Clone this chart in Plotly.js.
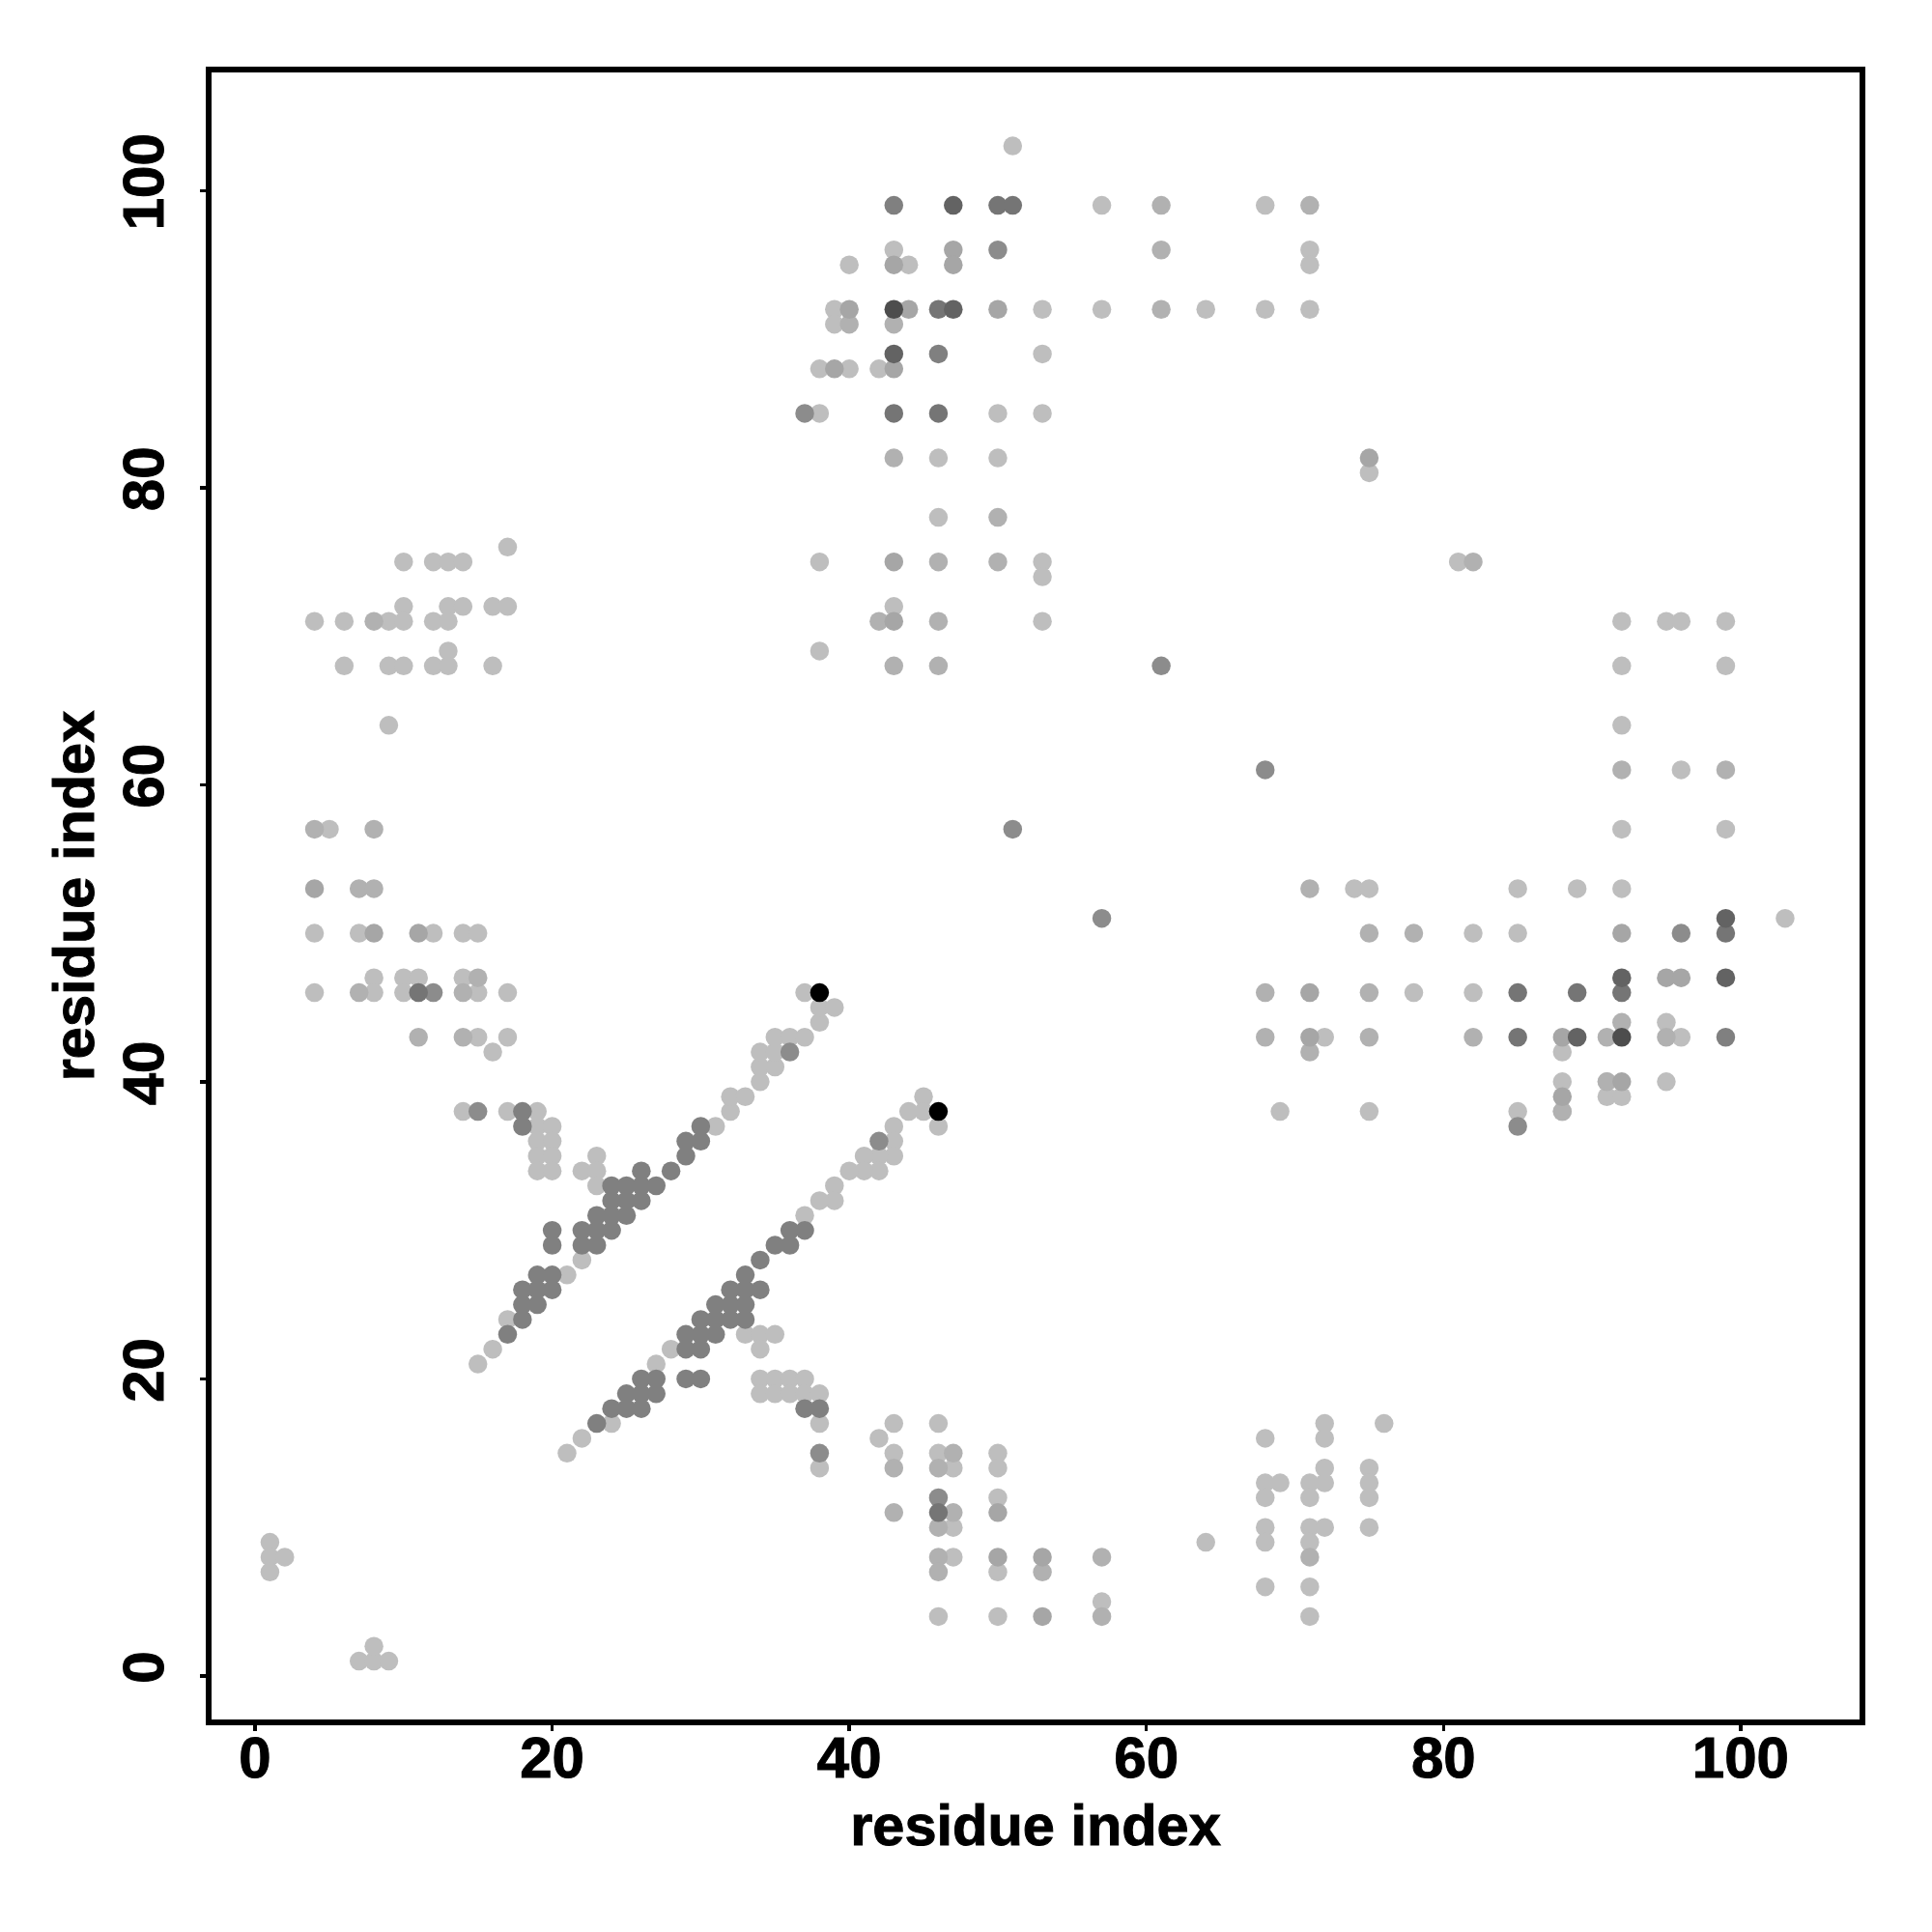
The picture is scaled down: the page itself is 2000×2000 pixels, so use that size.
<!DOCTYPE html>
<html><head><meta charset="utf-8">
<script src="https://cdn.plot.ly/plotly-3.0.1.min.js"></script>
<style>html,body{margin:0;padding:0;background:#fff}
.xtick text,.ytick text,.xtitle,.ytitle{stroke:#000;stroke-width:1px}</style></head>
<body><div id="chart" style="width:2000px;height:2000px"></div>
<script>
const gray1 = [[51,103],[57,99],[68,99],[43,96],[71,96],[40,95],[44,95],[71,95],[39,92],[53,92],[57,92],[64,92],[68,92],[71,92],[39,91],[53,89],[38,88],[40,88],[42,88],[38,85],[50,85],[53,85],[46,82],[50,82],[46,78],[38,75],[53,75],[53,74],[43,72],[38,69],[53,71],[75,81],[81,75],
[17,76],[10,75],[12,75],[13,75],[14,75],[10,72],[13,72],[14,72],[16,72],[17,72],[4,71],[6,71],[9,71],[10,71],[12,71],[13,71],[13,69],[6,68],[9,68],[10,68],[12,68],[13,68],[16,68],[9,64],[5,57],[4,50],[7,50],[12,50],[14,50],[15,50],[8,47],[10,47],[11,47],[14,47],[4,46],[8,46],[10,46],[15,46],[17,46],[15,43],[17,43],[16,42],[14,38],[17,38],[19,38],[19,37],[20,37],[19,36],[20,36],[19,35],[20,35],[19,34],[20,34],[23,35],[22,34],[23,34],[23,33],
[15,21],[16,22],[17,24],[21,27],[22,28],[31,37],[32,38],[32,39],[33,39],[34,40],[34,41],[35,41],[34,42],[35,42],[35,43],[36,43],[37,43],[38,44],[38,45],[39,45],[37,46],
[46,37],[45,39],[44,38],[45,38],[43,37],[43,36],[43,35],[42,35],[41,35],[42,34],[41,34],[40,34],[39,33],[39,32],[38,32],[37,31],[33,23],[34,23],[35,23],[34,22],[28,22],[27,21],[24,17],[22,16],[21,15],
[34,20],[35,20],[36,20],[37,20],[34,19],[35,19],[36,19],[37,19],[38,19],[38,17],[38,14],
[43,17],[46,17],[42,16],[43,15],[46,15],[47,14],[50,15],[50,14],[50,12],[47,10],[47,8],[50,7],[57,5],[50,4],[46,4],[64,9],
[68,16],[72,17],[72,16],[76,17],[72,14],[72,13],[71,13],[71,12],[68,13],[69,13],[68,12],[75,14],[75,13],[75,12],[68,10],[68,9],[71,10],[72,10],[71,9],[75,10],[68,6],[71,6],[71,4],
[1,9],[1,8],[2,8],[1,7],[7,1],[8,1],[9,1],[8,2],
[74,53],[75,53],[85,53],[89,53],[92,53],[103,51],[82,50],[85,50],[78,46],[82,46],[95,44],[72,43],[96,43],[88,42],[88,40],[95,40],[91,39],[92,39],[91,40],[69,38],[75,38],[85,38],[88,38],
[92,71],[95,71],[96,71],[99,71],[92,68],[99,68],[92,64],[96,61],[92,57],[99,57]];
const gray2 = [[61,99],[71,99],[61,96],[40,91],[43,91],[61,92],[43,82],[50,78],[46,75],[50,75],[42,71],[46,71],[43,68],[46,68],[82,75],
[8,71],[4,57],[8,57],[7,53],[8,53],[15,47],[7,46],[14,46],[11,43],[14,43],
[43,14],[47,15],[46,14],[47,11],[43,11],[46,10],[46,8],[46,7],[53,7],[57,8],[57,4],[71,8],
[71,53],[75,50],[78,50],[68,46],[75,46],[68,43],[75,43],[82,43],[91,43],[95,43],[71,42],[92,44],[91,40],[88,38],[92,61],[99,61]];
const gray3 = [[47,96],[43,95],[47,95],[40,92],[44,92],[50,92],[39,88],[43,88],[43,75],[43,71],[75,82],
[4,53],[8,50],[11,50],[50,11],[50,8],[53,8],[53,4],[92,50],[95,47],[96,47],[71,46],[71,43],[88,43],[92,40],[88,39]];
const gray4 = [[50,96],[37,85],[61,68],[68,61],[51,57],[57,51],[96,50],[12,46],[15,38],[36,42],[42,36],[38,15],[46,12],[85,37]];
const gray5 = [[43,99],[46,89],[99,43],[18,38],[18,37],
[17,23],[18,24],[18,25],[19,25],[18,26],[19,26],[20,26],[19,27],[20,27],[20,29],[20,30],[22,29],[23,29],[22,30],[23,30],[24,30],[23,31],[24,31],[25,31],[24,32],[25,32],[26,32],[24,33],[25,33],[26,33],[27,33],[26,34],[28,34],[29,35],[29,36],[30,36],[30,37],
[36,30],[37,30],[36,29],[35,29],[34,28],[33,27],[34,26],[33,26],[32,26],[33,25],[32,25],[31,25],[33,24],[32,24],[31,24],[30,24],[29,23],[30,23],[31,23],[29,22],[30,22],[29,20],[30,20],[26,20],[27,20],[25,19],[26,19],[27,19],[24,18],[25,18],[26,18],[23,17],[37,18],[38,18]];
const gray6 = [[50,99],[51,99],[46,92],[43,85],[46,85],[11,46],[46,11],[99,50],[85,46],[89,46],[92,46],[85,43]];
const gray7 = [[47,99],[47,92],[43,89],[99,51],[92,47],[99,47],[89,43]];
const gray8 = [[43,92],[92,43]];
const gray9 = [[38,46],[46,38]];

const levels = [
  [gray1,'#BEBEBE'],[gray2,'#B1B1B1'],[gray3,'#A6A6A6'],[gray4,'#8C8C8C'],[gray5,'#808080'],
  [gray6,'#757575'],[gray7,'#636363'],[gray8,'#4D4D4D'],[gray9,'#000000']
];
const traces = levels.map(([pts,color]) => ({
  type:'scatter', mode:'markers',
  x:pts.map(p=>p[0]), y:pts.map(p=>p[1]),
  marker:{size:19.5,color:color,line:{width:0}},
  showlegend:false, hoverinfo:'skip'
}));
const F = 'Liberation Sans';
const tickVals = [0,20,40,60,80,100];
const axisBase = {
  showgrid:false, zeroline:false, showline:true, mirror:true, linecolor:'#000', linewidth:6,
  ticks:'outside', ticklen:6, tickwidth:3.5, tickcolor:'#000',
  tickmode:'array', tickvals:tickVals, ticktext:tickVals.map(String),
  tickfont:{family:F,size:60,color:'#000',weight:700}
};
Plotly.newPlot('chart',traces,{
  width:2000,height:2000,paper_bgcolor:'#fff',plot_bgcolor:'#fff',
  margin:{l:218.7,r:75,t:75,b:219.7,pad:0},
  xaxis:Object.assign({},axisBase,{range:[-2.93,108.01],ticklabelstandoff:-24,
    title:{text:'<b>residue index</b>',font:{family:F,size:59.5,color:'#000'},standoff:18}}),
  yaxis:Object.assign({},axisBase,{range:[-2.93,107.95],tickangle:-90,ticklabelstandoff:14,
    title:{text:'<b>residue index</b>',font:{family:F,size:59.5,color:'#000'},standoff:0}}),
  showlegend:false
},{displayModeBar:false,staticPlot:true});
</script></body></html>
